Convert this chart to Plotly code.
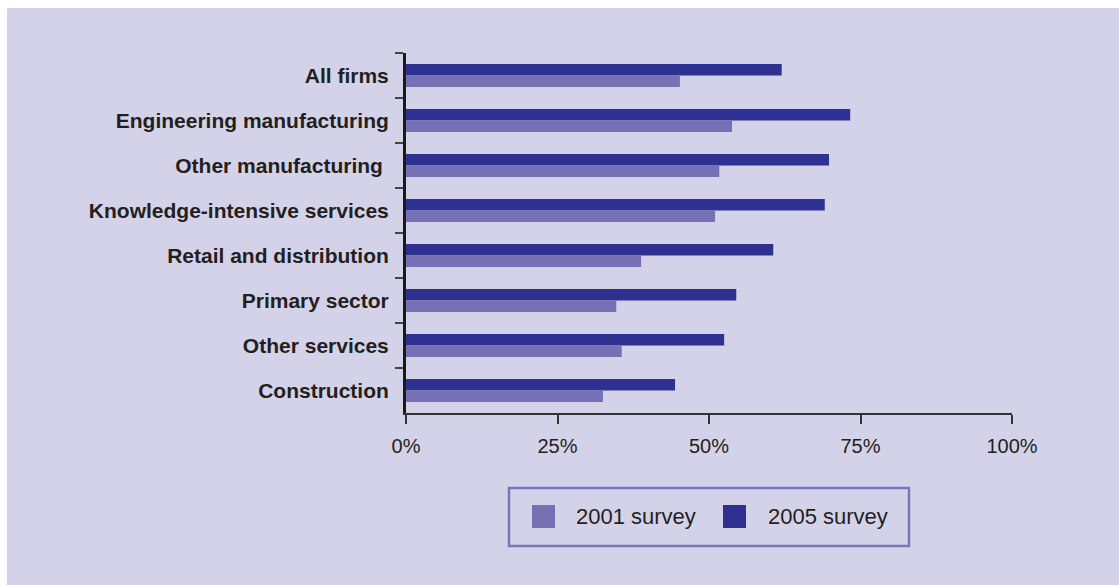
import plotly.graph_objects as go

# Share of firms by sector, two survey waves (%)
sectors = [
    "All firms",
    "Engineering manufacturing",
    "Other manufacturing\u00a0",
    "Knowledge-intensive services",
    "Retail and distribution",
    "Primary sector",
    "Other services",
    "Construction",
]
survey_2001 = [45.2, 53.8, 51.7, 51.0, 38.8, 34.7, 35.6, 32.5]
survey_2005 = [62.0, 73.3, 69.8, 69.1, 60.6, 54.5, 52.5, 44.4]
x_ticks = [0, 25, 50, 75, 100]
x_tick_labels = [f"{v}%" for v in x_ticks]
series_names = ["2001 survey", "2005 survey"]

LIGHT = "#7571b4"
DARK = "#2e3192"
BG = "#d4d2e8"
TEXT = "#231f20"

W, H = 1119, 585
ML, MR, MT, MB = 406, 107, 53, 172
PW, PH = W - ML - MR, H - MT - MB


def px_x(px):
    return (px - ML) / PW


def px_y(py):
    return (H - MB - py) / PH


fig = go.Figure()
fig.add_trace(go.Bar(y=sectors, x=survey_2005, orientation="h", name=series_names[1],
                     marker=dict(color=DARK, line=dict(width=0)), showlegend=False))
fig.add_trace(go.Bar(y=sectors, x=survey_2001, orientation="h", name=series_names[0],
                     marker=dict(color=LIGHT, line=dict(width=0)), showlegend=False))

shapes = [
    # lavender panel
    dict(type="rect", xref="paper", yref="paper", layer="below",
         x0=px_x(7), x1=px_x(W + 5), y0=px_y(H + 5), y1=px_y(8),
         fillcolor=BG, line=dict(width=0)),
    # legend frame
    dict(type="rect", xref="paper", yref="paper",
         x0=px_x(509), x1=px_x(909), y0=px_y(546), y1=px_y(488),
         fillcolor="rgba(0,0,0,0)", line=dict(color="#7a76b9", width=2.5)),
]
annotations = []
legend_items = [(532, LIGHT, series_names[0], 574), (723, DARK, series_names[1], 766)]
for sx, col, label, tx in legend_items:
    shapes.append(dict(type="rect", xref="paper", yref="paper",
                       x0=px_x(sx), x1=px_x(sx + 23), y0=px_y(528), y1=px_y(505),
                       fillcolor=col, line=dict(width=0)))
    annotations.append(dict(xref="paper", yref="paper", x=px_x(tx), y=px_y(516),
                            xanchor="left", yanchor="middle", showarrow=False,
                            text=label, font=dict(size=22, color=TEXT)))

fig.update_layout(
    width=W, height=H,
    margin=dict(l=ML, r=MR, t=MT, b=MB, autoexpand=False),
    paper_bgcolor="white",
    plot_bgcolor="rgba(0,0,0,0)",
    barmode="group",
    bargap=0.49,
    bargroupgap=0,
    font=dict(family="Liberation Sans, Arial, sans-serif", color=TEXT),
    shapes=shapes,
    annotations=annotations,
    xaxis=dict(
        range=[0, 100], tickvals=x_ticks, ticktext=x_tick_labels,
        showgrid=False, zeroline=False,
        showline=True, linecolor="#333333", linewidth=2,
        ticks="outside", ticklen=9, tickwidth=2, tickcolor="#333333",
        tickfont=dict(size=20, color=TEXT),
        ticklabelstandoff=5,
    ),
    yaxis=dict(
        autorange="reversed",
        showgrid=False, zeroline=False,
        showline=True, linecolor="#1a1a1a", linewidth=3,
        ticks="outside", tickson="boundaries", ticklen=8, tickwidth=1.5,
        tickcolor="#444444",
        tickfont=dict(size=21, color=TEXT, family="Liberation Sans, Arial, sans-serif", weight="bold"),
        ticklabelstandoff=10,
    ),
)

fig.write_html("out.html")
